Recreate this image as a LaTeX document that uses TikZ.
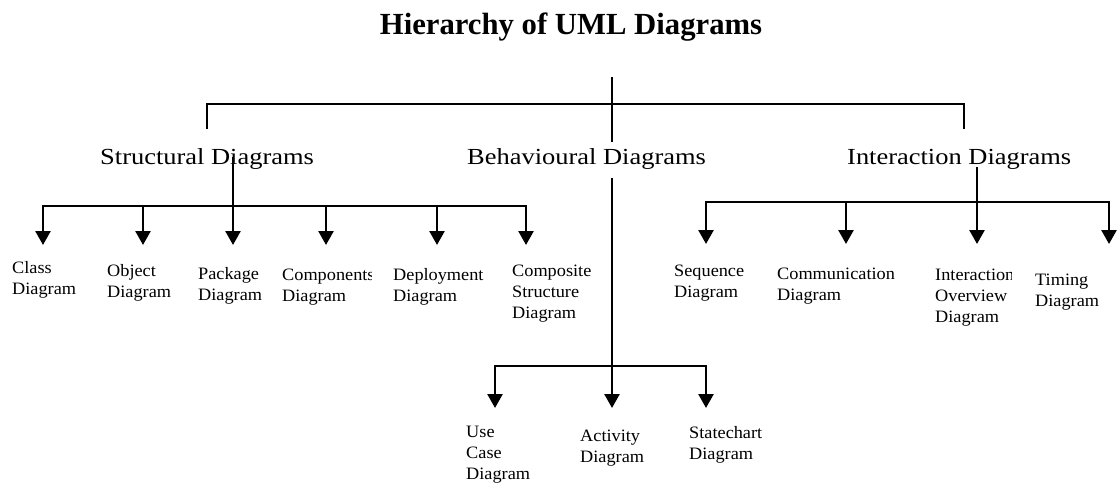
\documentclass[tikz,border=0pt]{standalone}
\usepackage{fontspec}
\setmainfont{Liberation Serif}
\newfontfamily\headfont{Liberation Serif}[FakeStretch=1.15]
\newfontfamily\leaffont{Liberation Serif}[FakeStretch=1.05]
\usetikzlibrary{arrows.meta}
\begin{document}
\begin{tikzpicture}[x=1pt,y=-1pt,
  thinline/.style={line width=1.3pt},
  midline/.style={line width=2pt},
  barline/.style={line width=2.6pt,line cap=rect},
  branch/.style={line width=2.6pt,-{Triangle[width=15pt,length=14pt]}},
  headlbl/.style={font=\headfont\fontsize{23}{27}\selectfont,inner sep=0pt,anchor=base west},
  % multi-line labels: the base anchor sits on the last line
  leaflbl/.style={font=\leaffont\fontsize{17.4}{21}\selectfont,inner sep=0pt,anchor=base west,align=left},
  titlelbl/.style={font=\bfseries\fontsize{30.7}{36}\selectfont,inner sep=0pt,anchor=base}]
\useasboundingbox (0,0) rectangle (1118,484);

% title
\node[titlelbl] (title) at (571,35) {Hierarchy of UML Diagrams};

% the three families
\node[headlbl] (structural)  at (100,164) {Structural Diagrams};
\node[headlbl] (behavioural) at (467,164) {Behavioural Diagrams};
\node[headlbl] (interaction) at (847,164) {Interaction Diagrams};

% top level fork
\coordinate (root)  at (612,77);
\coordinate (rootE) at (612,142);
\coordinate (topL)  at (207,104);
\coordinate (topR)  at (964,104);
\coordinate (dropL) at (207,129);
\coordinate (dropR) at (964,129);
\draw[thinline] (root) -- (rootE);
\draw[midline] (dropL) -- (topL) -- (topR) -- (dropR);

% structural diagrams
\coordinate (sTop) at (233,157);
\coordinate (sJ)   at (233,206);
\coordinate (sL)   at (43,206);
\coordinate (sR)   at (526,206);
\draw[thinline] (sTop) -- (sJ);
\draw[barline] (sL) -- (sR);
\foreach \n/\x in {cls/43,obj/143,pkg/233,cmp/326,dep/437,cst/526}{
  \coordinate (\n-b) at (\x,206);
  \coordinate (\n-t) at (\x,245);
  \draw[branch] (\n-b) -- (\n-t);
}
\node[leaflbl] (class)   at (12,294)  {Class\\Diagram};
\node[leaflbl] (object)  at (107,297) {Object\\Diagram};
\node[leaflbl] (package) at (198,300) {Package\\Diagram};
\begin{scope}
  \clip (270,255) rectangle (371,310);
  \node[leaflbl] (component) at (282,301) {Components\\Diagram};
\end{scope}
\node[leaflbl] (deployment) at (393,301) {Deployment\\Diagram};
\node[leaflbl] (composite)  at (512,318) {Composite\\Structure\\Diagram};

% interaction diagrams
\coordinate (iTop) at (977,167);
\coordinate (iJ)   at (977,202);
\coordinate (iL)   at (706,202);
\coordinate (iR)   at (1109,202);
\draw[thinline] (iTop) -- (iJ);
\draw[barline] (iL) -- (iR);
\foreach \n/\x in {seq/706,com/846,ovw/977,tim/1109}{
  \coordinate (\n-b) at (\x,202);
  \coordinate (\n-t) at (\x,244);
  \draw[branch] (\n-b) -- (\n-t);
}
\node[leaflbl] (sequence)      at (674,297)  {Sequence\\Diagram};
\node[leaflbl] (communication) at (777,300)  {Communication\\Diagram};
\begin{scope}
  \clip (925,255) rectangle (1011,330);
  \node[leaflbl] (overview) at (935,322) {Interaction\\Overview\\Diagram};
\end{scope}
\node[leaflbl] (timing) at (1035,306) {Timing\\Diagram};

% behavioural diagrams
\coordinate (bTop) at (612,178);
\coordinate (bJ)   at (612,366);
\coordinate (bL)   at (495,366);
\coordinate (bR)   at (706,366);
\draw[midline] (bTop) -- (bJ);
\draw[barline] (bL) -- (bR);
\foreach \n/\x in {use/495,act/612,stc/706}{
  \coordinate (\n-b) at (\x,366);
  \coordinate (\n-t) at (\x,408);
  \draw[branch] (\n-b) -- (\n-t);
}
\node[leaflbl] (usecase)    at (466,479) {Use\\Case\\Diagram};
\node[leaflbl] (activity)   at (580,462) {Activity\\Diagram};
\node[leaflbl] (statechart) at (689,459) {Statechart\\Diagram};
\end{tikzpicture}
\end{document}
